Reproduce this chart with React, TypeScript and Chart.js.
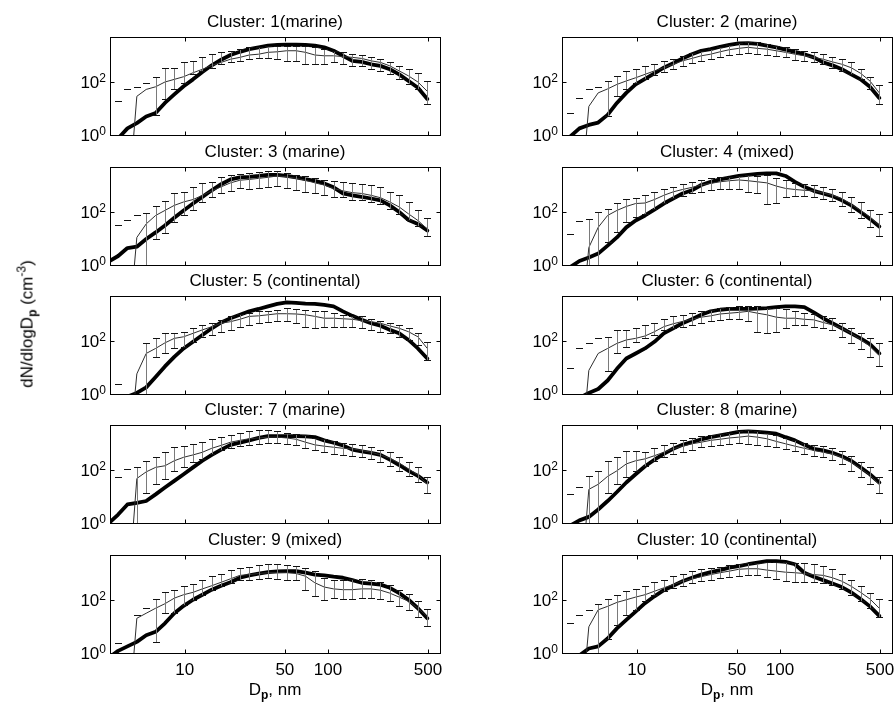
import React, { useEffect, useRef } from 'react';
import { Chart, registerables } from 'chart.js';

Chart.register(...registerables);

// ---- data (diameters in nm; values are log10 of dN/dlogDp in cm^-3) ----
const diameters = [
  3.42, 3.97, 4.62, 5.37, 6.25, 7.26, 8.44, 9.81, 11.41, 13.27,
  15.43, 17.94, 20.86, 24.25, 28.2, 32.79, 38.12, 44.32, 51.54, 59.92,
  69.67, 81.01, 94.19, 109.5, 127.3, 148.1, 172.2, 200.2, 232.8, 270.6,
  314.7, 365.9, 425.4, 494.6,
];
const thickDiameters = [2.9, ...diameters];

const xTickValues = [10, 50, 100, 500];
const xTickLabels = ['10', '50', '100', '500'];
const yTickValues = [1, 100];
const yTickExponents = ['0', '2'];

const titles = [
  'Cluster: 1(marine)', 'Cluster: 2 (marine)',
  'Cluster: 3 (marine)', 'Cluster: 4 (mixed)',
  'Cluster: 5 (continental)', 'Cluster: 6 (continental)',
  'Cluster: 7 (marine)', 'Cluster: 8 (marine)',
  'Cluster: 9 (mixed)', 'Cluster: 10 (continental)',
];

// Cluster 1
const c1Upper = [1.27,1.72,1.82,1.97,2.19,2.54,2.54,2.74,2.8,2.96, 3.05,3.12,3.18,3.24,3.31,3.31,3.37,3.37,3.37,3.37, 3.37,3.31,3.24,3.18,3.12,3.05,3.02,2.93,2.86,2.76, 2.61,2.48,2.35,2.04];
const c1Lower = [null,null,null,null,0.76,1.34,1.72,1.97,2.29,2.42, 2.54,2.67,2.74,2.8,2.86,2.89,2.89,2.86,2.8,2.8, 2.67,2.67,2.67,2.74,2.67,2.61,2.61,2.48,2.42,2.29, 2.1,1.91,1.72,1.18];
const c1Thin = [-3,-3,1.46,1.72,1.82,2.0,2.1,2.2,2.35,2.48, 2.63,2.74,2.86,2.93,3.02,3.05,3.12,3.14,3.18,3.18, 3.12,3.02,2.99,2.99,2.96,2.93,2.89,2.8,2.74,2.61, 2.42,2.23,2.0,1.65];
const c1Thick = [-0.5, -0.13,0.25,0.45,0.7,0.83,1.21,1.53,1.84,2.1,2.38, 2.63,2.84,3.02,3.14,3.24,3.31,3.37,3.4,3.41,3.41, 3.4,3.37,3.31,3.18,2.99,2.8,2.76,2.67,2.61,2.48, 2.29,2.04,1.78,1.36];

// Cluster 2
const c2Upper = [0.83,1.4,1.72,1.82,2.04,2.23,2.42,2.48,2.61,2.67, 2.8,2.86,2.99,3.09,3.18,3.24,3.33,3.4,3.46,3.5, 3.5,3.44,3.37,3.31,3.24,3.18,3.12,3.05,2.93,2.86, 2.74,2.51,2.2,1.87];
const c2Lower = [null,null,null,null,0.7,1.46,1.72,1.97,2.1,2.25, 2.38,2.48,2.61,2.71,2.8,2.86,2.96,3.02,3.05,3.08, 3.05,3.02,2.99,2.93,2.84,2.8,2.74,2.67,2.54,2.42, 2.29,2.1,1.74,1.18];
const c2Thin = [-3,-3,1.08,1.59,1.74,1.91,2.04,2.16,2.29,2.42, 2.54,2.67,2.8,2.89,2.99,3.05,3.14,3.22,3.27,3.31, 3.27,3.24,3.18,3.12,3.05,2.99,2.93,2.86,2.76,2.67, 2.54,2.33,2.04,1.59];
const c2Thick = [-0.45, -0.06,0.25,0.38,0.47,0.76,1.21,1.59,1.91,2.12,2.33, 2.54,2.71,2.89,3.05,3.18,3.24,3.33,3.4,3.46,3.47, 3.44,3.37,3.31,3.22,3.14,3.05,2.93,2.74,2.63,2.48, 2.29,2.1,1.82,1.4];

// Cluster 3
const c3Upper = [1.52,1.7,1.9,1.97,2.21,2.42,2.72,2.76,2.95,3.08, 3.14,3.31,3.4,3.44,3.49,3.52,3.55,3.55,3.49,3.4, 3.36,3.27,3.21,3.18,3.14,3.08,3.05,3.02,2.95,2.76, 2.63,2.38,2.09,1.78];
const c3Lower = [null,null,null,-0.5,0.98,1.2,1.62,1.87,2.09,2.38, 2.57,2.72,2.8,2.89,2.85,2.89,2.95,2.98,2.89,2.82, 2.76,2.7,2.63,2.57,2.57,2.47,2.44,2.38,2.32,2.12, 1.93,1.68,1.49,1.11];
const c3Thin = [-3,-3,1.04,1.55,1.87,2.06,2.25,2.38,2.47,2.63, 2.8,2.95,3.1,3.2,3.23,3.27,3.31,3.36,3.33,3.27, 3.2,3.1,3.02,2.89,2.8,2.73,2.7,2.63,2.54,2.38, 2.19,1.93,1.68,1.36];
const c3Thick = [0.11, 0.34,0.64,0.69,0.98,1.23,1.49,1.78,2.06,2.32,2.57, 2.82,3.05,3.23,3.31,3.33,3.36,3.4,3.4,3.36,3.31, 3.24,3.18,3.08,2.93,2.7,2.63,2.57,2.51,2.44,2.25, 2.0,1.7,1.55,1.3];

// Cluster 4
const c4Upper = [1.17,1.65,1.74,2.0,2.12,2.34,2.51,2.54,2.63,2.74, 2.85,2.95,3.05,3.14,3.21,3.27,3.31,3.33,3.36,3.4, 3.36,3.4,3.27,3.21,3.1,3.05,3.02,2.95,2.85,2.76, 2.57,2.38,2.09,1.93];
const c4Lower = [null,null,-0.5,-0.5,0.85,1.23,1.62,1.81,1.93,2.12, 2.34,2.54,2.6,2.7,2.76,2.82,2.85,2.85,2.85,2.76, 2.7,2.32,2.34,2.57,2.6,2.6,2.57,2.51,2.42,2.21, 2.0,1.78,1.42,1.11];
const c4Thin = [-3,-3,0.66,1.42,1.87,2.06,2.21,2.32,2.34,2.47, 2.63,2.76,2.85,2.93,3.02,3.08,3.14,3.18,3.21,3.18, 3.14,3.1,2.98,2.89,2.85,2.82,2.8,2.72,2.63,2.51, 2.29,2.06,1.81,1.49];
const c4Thick = [-0.35, -0.08,0.15,0.28,0.43,0.73,1.04,1.42,1.68,1.87,2.09, 2.32,2.51,2.7,2.82,3.02,3.14,3.23,3.3,3.36,3.4, 3.44,3.46,3.46,3.36,3.14,2.95,2.8,2.7,2.6,2.44, 2.25,2.0,1.74,1.45];

// Cluster 5
const c5Upper = [0.36,null,null,1.93,2.1,2.29,2.29,2.35,2.48,2.61, 2.67,2.8,2.93,3.03,3.05,3.12,3.12,3.18,3.24,3.21, 3.18,3.12,3.12,3.05,2.99,2.95,2.93,2.82,2.77,2.67, 2.61,2.48,2.29,1.97];
const c5Lower = [null,null,null,-0.5,1.4,1.53,1.72,1.78,1.97,2.16, 2.23,2.35,2.42,2.54,2.61,2.67,2.7,2.74,2.74,2.67, 2.54,2.48,2.54,2.54,2.54,2.54,2.48,2.42,2.35,2.29, 2.16,2.04,1.84,1.27];
const c5Thin = [-3,-3,0.76,1.53,1.72,1.93,2.1,2.16,2.29,2.42, 2.54,2.67,2.73,2.82,2.93,2.95,2.99,3.03,3.03,3.02, 2.99,2.93,2.86,2.86,2.84,2.82,2.77,2.73,2.67,2.57, 2.48,2.35,2.16,1.72];
const c5Thick = [-0.9, -0.5,-0.1,0.04,0.25,0.64,1.04,1.4,1.72,1.97,2.23, 2.48,2.7,2.86,2.99,3.12,3.21,3.31,3.4,3.46,3.44, 3.41,3.4,3.36,3.31,3.12,2.95,2.8,2.67,2.58,2.42, 2.29,2.04,1.72,1.34];

// Cluster 6
const c6Upper = [0.99,1.72,1.93,2.1,2.14,2.42,2.42,2.48,2.61,2.67, 2.82,2.93,2.99,3.05,3.12,3.18,3.24,3.28,3.31,3.31, 3.31,3.24,3.24,3.21,3.12,3.05,3.03,2.95,2.86,2.67, 2.48,2.29,2.1,1.91];
const c6Lower = [null,null,null,null,0.87,1.53,1.78,1.97,2.1,2.23, 2.42,2.48,2.54,2.61,2.67,2.74,2.8,2.82,2.82,2.74, 2.35,2.29,2.35,2.48,2.61,2.61,2.54,2.48,2.42,2.16, 1.93,1.68,1.4,1.04];
const c6Thin = [-3,-3,0.89,1.53,1.72,1.91,2.04,2.1,2.19,2.35, 2.54,2.65,2.74,2.82,2.9,2.95,3.02,3.05,3.08,3.12, 3.05,2.99,2.9,2.86,2.86,2.82,2.8,2.7,2.61,2.48, 2.29,2.06,1.81,1.46];
const c6Thick = [-0.9, -0.5,-0.15,0.04,0.19,0.51,0.95,1.34,1.53,1.72,1.97, 2.29,2.48,2.67,2.82,2.99,3.12,3.18,3.21,3.21,3.21, 3.22,3.24,3.28,3.31,3.31,3.28,3.08,2.86,2.67,2.48, 2.29,2.1,1.88,1.53];

// Cluster 7
const c7Upper = [1.72,2.04,2.1,2.35,2.48,2.67,2.86,2.9,2.99,3.05, 3.18,3.24,3.33,3.41,3.46,3.5,3.5,3.46,3.41,3.37, 3.31,3.21,3.16,3.08,3.03,2.99,2.93,2.86,2.77,2.67, 2.48,2.29,2.1,1.72];
const c7Lower = [null,null,-1,1.15,1.46,1.65,1.97,2.1,2.29,2.42, 2.61,2.74,2.82,2.9,2.95,2.99,3.03,3.03,2.99,2.93, 2.82,2.74,2.67,2.61,2.57,2.54,2.48,2.42,2.32,2.16, 1.97,1.76,1.55,1.15];
const c7Thin = [-3,-3,1.68,1.93,2.1,2.16,2.35,2.48,2.57,2.67, 2.82,2.93,3.05,3.12,3.18,3.21,3.24,3.24,3.21,3.16, 3.05,2.95,2.9,2.86,2.82,2.8,2.74,2.67,2.57,2.44, 2.26,2.04,1.81,1.46];
const c7Thick = [-0.04, 0.32,0.7,0.76,0.83,1.08,1.34,1.59,1.84,2.1,2.35, 2.57,2.77,2.95,3.03,3.12,3.21,3.28,3.28,3.28,3.28, 3.27,3.24,3.12,3.03,2.93,2.77,2.7,2.65,2.57,2.39, 2.19,1.97,1.78,1.53];

// Cluster 8
const c8Upper = [1.08,1.37,1.78,1.97,2.35,2.48,2.7,2.7,2.67,2.82, 2.95,3.03,3.12,3.21,3.28,3.33,3.37,3.41,3.46,3.5, 3.46,3.41,3.31,3.21,3.12,3.03,2.95,2.9,2.82,2.7, 2.52,2.32,2.1,1.72];
const c8Lower = [null,null,-1,-1,1.15,1.46,1.72,1.97,2.16,2.35, 2.48,2.61,2.67,2.77,2.86,2.9,2.95,2.99,3.03,2.99, 2.95,2.9,2.86,2.8,2.7,2.61,2.54,2.48,2.39,2.23, 1.97,1.72,1.46,1.15];
const c8Thin = [-3,-3,1.27,1.46,1.76,1.97,2.23,2.35,2.42,2.54, 2.67,2.8,2.9,2.99,3.05,3.12,3.16,3.21,3.24,3.28, 3.24,3.18,3.08,2.99,2.9,2.82,2.74,2.67,2.61,2.48, 2.29,2.06,1.81,1.46];
const c8Thick = [-0.4, -0.1,0.1,0.23,0.51,0.83,1.17,1.53,1.84,2.14,2.39, 2.61,2.8,2.95,3.05,3.16,3.24,3.31,3.37,3.44,3.46, 3.44,3.41,3.37,3.24,3.12,2.95,2.8,2.74,2.65,2.52, 2.35,2.1,1.84,1.53];

// Cluster 9
const c9Upper = [0.38,null,1.44,1.7,2.04,2.29,2.37,2.54,2.62,2.75, 2.9,3.0,3.13,3.22,3.26,3.31,3.35,3.35,3.31,3.28, 3.22,3.09,2.84,2.77,2.77,2.8,2.8,2.75,2.67,2.58, 2.39,2.24,1.95,1.65];
const c9Lower = [null,null,null,null,0.42,1.5,1.5,1.82,2.01,2.2, 2.39,2.54,2.65,2.75,2.77,2.8,2.84,2.8,2.77,2.75, 2.39,2.14,2.01,2.07,2.04,2.04,2.07,2.07,2.04,1.95, 1.76,1.63,1.35,1.02];
const c9Thin = [-3,-3,1.31,1.5,1.69,1.86,2.07,2.2,2.29,2.42, 2.54,2.67,2.8,2.93,2.96,3.0,3.03,3.03,3.03,3.0, 2.9,2.65,2.49,2.42,2.39,2.39,2.42,2.42,2.37,2.26, 2.11,1.95,1.69,1.37];
const c9Thick = [-0.2, 0.08,0.25,0.42,0.67,0.8,1.12,1.5,1.78,2.01,2.2, 2.39,2.54,2.67,2.84,2.93,3.0,3.05,3.08,3.09,3.09, 3.03,2.96,2.93,2.88,2.84,2.75,2.65,2.62,2.58,2.46, 2.26,2.01,1.69,1.31];

// Cluster 10
const c10Upper = [1.15,1.44,1.63,1.86,2.04,2.2,2.33,2.42,2.54,2.67, 2.77,2.9,3.0,3.09,3.16,3.22,3.26,3.31,3.35,3.38, 3.41,3.44,3.44,3.44,3.41,3.38,3.35,3.28,3.16,3.0, 2.77,2.54,2.26,2.04];
const c10Lower = [null,null,null,-0.5,0.51,1.06,1.44,1.63,1.95,2.2, 2.33,2.46,2.54,2.65,2.71,2.77,2.84,2.88,2.9,2.93, 2.93,2.88,2.8,2.71,2.67,2.67,2.67,2.65,2.58,2.42, 2.2,1.95,1.69,1.35];
const c10Thin = [-3,-3,0.99,1.63,1.76,1.91,2.01,2.11,2.2,2.33, 2.46,2.58,2.71,2.8,2.88,2.96,3.03,3.09,3.16,3.18, 3.18,3.13,3.09,3.05,3.03,3.0,2.96,2.93,2.84,2.71, 2.52,2.29,2.04,1.69];
const c10Thick = [-0.6, -0.3,-0.09,0.17,0.25,0.55,0.93,1.25,1.56,1.88,2.14, 2.37,2.54,2.71,2.84,2.96,3.05,3.13,3.22,3.28,3.35, 3.41,3.47,3.47,3.44,3.35,3.03,2.88,2.75,2.62,2.49, 2.29,2.04,1.76,1.4];

type PanelData = { title: string; upper: (number | null)[]; lower: (number | null)[]; thin: number[]; thick: number[] };

const panels: PanelData[] = [
  { title: titles[0], upper: c1Upper, lower: c1Lower, thin: c1Thin, thick: c1Thick },
  { title: titles[1], upper: c2Upper, lower: c2Lower, thin: c2Thin, thick: c2Thick },
  { title: titles[2], upper: c3Upper, lower: c3Lower, thin: c3Thin, thick: c3Thick },
  { title: titles[3], upper: c4Upper, lower: c4Lower, thin: c4Thin, thick: c4Thick },
  { title: titles[4], upper: c5Upper, lower: c5Lower, thin: c5Thin, thick: c5Thick },
  { title: titles[5], upper: c6Upper, lower: c6Lower, thin: c6Thin, thick: c6Thick },
  { title: titles[6], upper: c7Upper, lower: c7Lower, thin: c7Thin, thick: c7Thick },
  { title: titles[7], upper: c8Upper, lower: c8Lower, thin: c8Thin, thick: c8Thick },
  { title: titles[8], upper: c9Upper, lower: c9Lower, thin: c9Thin, thick: c9Thick },
  { title: titles[9], upper: c10Upper, lower: c10Lower, thin: c10Thin, thick: c10Thick },
];

// ---- layout ----
const FONT = '"Liberation Sans", Arial, Helvetica, sans-serif';
const colLefts = [110, 562];
const rowTops = [37, 167, 296, 425, 555];
const PLOT_W = 330;
const PLOT_H = 98;
const PAD_L = 72;
const PAD_R = 8;
const PAD_T = 34;

const pow = (v: number) => Math.pow(10, v);

function makeDecor(panel: PanelData, showX: boolean) {
  return {
    id: 'panelDecor',
    afterDatasetDraw(chart: any, args: any) {
      if (args.index !== 0) return;
      const { ctx, chartArea: a } = chart;
      const xs = chart.scales.x;
      const ys = chart.scales.y;
      ctx.save();
      ctx.beginPath();
      ctx.rect(a.left, a.top, a.right - a.left, a.bottom - a.top);
      ctx.clip();
      ctx.lineWidth = 1;
      diameters.forEach((d, i) => {
        const up = panel.upper[i];
        if (up == null) return;
        const x = Math.round(xs.getPixelForValue(d)) + 0.5;
        const yU = Math.round(ys.getPixelForValue(pow(up))) + 0.5;
        const lo = panel.lower[i];
        if (lo != null) {
          const yL = Math.round(ys.getPixelForValue(pow(lo))) + 0.5;
          ctx.strokeStyle = '#7a7a7a';
          ctx.beginPath();
          ctx.moveTo(x, yU);
          ctx.lineTo(x, yL);
          ctx.stroke();
          ctx.strokeStyle = '#111';
          ctx.beginPath();
          ctx.moveTo(x - 3.5, yL);
          ctx.lineTo(x + 3.5, yL);
          ctx.stroke();
        }
        ctx.strokeStyle = '#111';
        ctx.beginPath();
        ctx.moveTo(x - 3.5, yU);
        ctx.lineTo(x + 3.5, yU);
        ctx.stroke();
      });
      ctx.restore();
    },
    afterDraw(chart: any) {
      const { ctx, chartArea: a } = chart;
      const xs = chart.scales.x;
      const ys = chart.scales.y;
      ctx.save();
      ctx.strokeStyle = '#000';
      ctx.lineWidth = 1;
      ctx.strokeRect(a.left + 0.5, a.top + 0.5, a.right - a.left, a.bottom - a.top);
      const TL = 4;
      ctx.beginPath();
      xTickValues.forEach((v) => {
        const x = Math.round(xs.getPixelForValue(v)) + 0.5;
        ctx.moveTo(x, a.bottom + 0.5);
        ctx.lineTo(x, a.bottom + 0.5 - TL);
        ctx.moveTo(x, a.top + 0.5);
        ctx.lineTo(x, a.top + 0.5 + TL);
      });
      yTickValues.forEach((v) => {
        const y = Math.round(ys.getPixelForValue(v)) + 0.5;
        ctx.moveTo(a.left + 0.5, y);
        ctx.lineTo(a.left + 0.5 + TL, y);
        ctx.moveTo(a.right + 0.5, y);
        ctx.lineTo(a.right + 0.5 - TL, y);
      });
      ctx.stroke();

      ctx.fillStyle = '#000';
      // y tick labels: 10^n
      yTickValues.forEach((v, i) => {
        const y = ys.getPixelForValue(v);
        ctx.font = `12px ${FONT}`;
        const ws = ctx.measureText(yTickExponents[i]).width;
        ctx.font = `17px ${FONT}`;
        const wb = ctx.measureText('10').width;
        const right = a.left - 4;
        ctx.textAlign = 'left';
        ctx.textBaseline = 'alphabetic';
        ctx.fillText('10', right - ws - wb, y + 6);
        ctx.font = `12px ${FONT}`;
        ctx.fillText(yTickExponents[i], right - ws, y);
      });
      if (showX) {
        ctx.font = `17px ${FONT}`;
        ctx.textAlign = 'center';
        ctx.textBaseline = 'alphabetic';
        xTickValues.forEach((v, i) => {
          ctx.fillText(xTickLabels[i], xs.getPixelForValue(v), a.bottom + 22);
        });
      }
      ctx.font = `17px ${FONT}`;
      ctx.textAlign = 'center';
      ctx.textBaseline = 'alphabetic';
      ctx.fillText(panel.title, (a.left + a.right) / 2, a.top - 10);
      ctx.restore();
    },
  };
}

function Panel({ panel, left, top, showX }: { panel: PanelData; left: number; top: number; showX: boolean }) {
  const ref = useRef<HTMLCanvasElement>(null);
  const padB = showX ? 30 : 12;
  const w = PAD_L + PLOT_W + PAD_R;
  const h = PAD_T + PLOT_H + padB;
  useEffect(() => {
    if (!ref.current) return;
    const chart = new Chart(ref.current, {
      type: 'line',
      data: {
        datasets: [
          {
            data: diameters.map((d, i) => ({ x: d, y: pow(panel.thin[i]) })),
            borderColor: '#2e2e2e',
            borderWidth: 1,
            pointRadius: 0,
            tension: 0,
            clip: 0,
          },
          {
            data: thickDiameters.map((d, i) => ({ x: d, y: pow(panel.thick[i]) })),
            borderColor: '#000000',
            borderWidth: 3.8,
            pointRadius: 0,
            tension: 0,
            borderJoinStyle: 'round',
            borderCapStyle: 'round',
            clip: 0,
          },
        ],
      } as any,
      options: {
        responsive: false,
        maintainAspectRatio: false,
        animation: false,
        devicePixelRatio: 1,
        events: [],
        layout: { autoPadding: false, padding: { left: PAD_L, right: PAD_R, top: PAD_T, bottom: padB } },
        plugins: { legend: { display: false }, tooltip: { enabled: false }, title: { display: false } },
        scales: {
          x: { type: 'logarithmic', min: 3, max: 607, display: false },
          y: { type: 'logarithmic', min: 1, max: 5000, display: false },
        },
      } as any,
      plugins: [makeDecor(panel, showX)],
    });
    return () => chart.destroy();
  }, []);
  return (
    <canvas
      ref={ref}
      width={w}
      height={h}
      style={{ position: 'absolute', left: left - PAD_L, top: top - PAD_T, width: w, height: h }}
    />
  );
}

export default function App() {
  const sub: React.CSSProperties = { fontSize: 12, position: 'relative', top: 4, fontWeight: 'bold' };
  const sup: React.CSSProperties = { fontSize: 12, position: 'relative', top: -7 };
  return (
    <div style={{ position: 'fixed', left: 0, top: 0, width: 896, height: 708, background: '#fff', overflow: 'hidden', fontFamily: FONT }}>
      {panels.map((p, i) => (
        <Panel key={i} panel={p} left={colLefts[i % 2]} top={rowTops[Math.floor(i / 2)]} showX={i >= 8} />
      ))}
      <div
        style={{
          position: 'absolute', left: 27.5, top: 324, transform: 'translate(-50%, -50%) rotate(-90deg)',
          whiteSpace: 'nowrap', fontSize: 17, lineHeight: '18px', color: '#000',
        }}
      >
        dN/dlogD<span style={sub}>p</span> (cm<span style={sup}>-3</span>)
      </div>
      {colLefts.map((cl, i) => (
        <div
          key={i}
          style={{
            position: 'absolute', left: cl + PLOT_W / 2, top: 681, transform: 'translateX(-50%)',
            whiteSpace: 'nowrap', fontSize: 17, lineHeight: '18px', color: '#000',
          }}
        >
          D<span style={sub}>p</span>, nm
        </div>
      ))}
    </div>
  );
}
